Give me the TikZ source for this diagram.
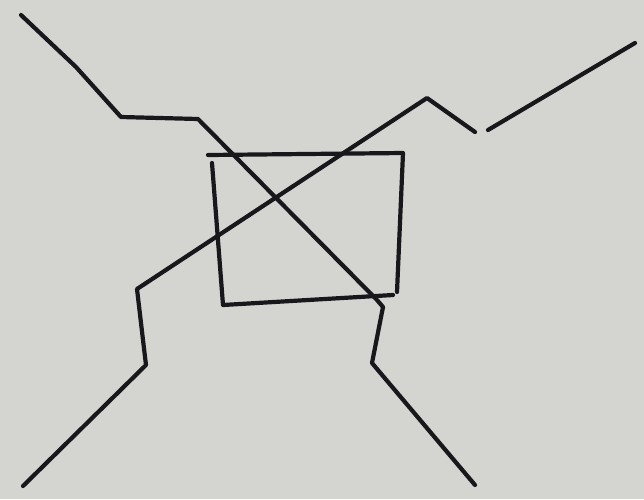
\documentclass[tikz,border=0pt]{standalone}
\definecolor{paper}{RGB}{212,212,208}
\definecolor{ink}{RGB}{24,24,28}
\begin{document}
\begin{tikzpicture}[x=1pt,y=-1pt,pen/.style={draw=ink,line width=4.2pt,line cap=round,line join=round}]
    \fill[paper] (0,0) rectangle (644,499);
    \useasboundingbox (0,0) rectangle (644,499);
    % box
    \draw[pen] (208,155)--(403,153)--(397,292);
    \draw[pen] (212,163)--(223,305)--(393,295);
    % first stroke, top left to bottom right
    \draw[pen] (21,15)--(76,67)--(121,117)--(198,119)--(377,300)--(383,307)--(372,363)--(475,485);
    % second stroke, bottom left to top right
    \draw[pen] (23,486)--(146,365)--(143,340)--(137,289)--(427,98)--(475,132);
    \draw[pen] (488,130)--(635,43);
  \end{tikzpicture}
\end{document}
